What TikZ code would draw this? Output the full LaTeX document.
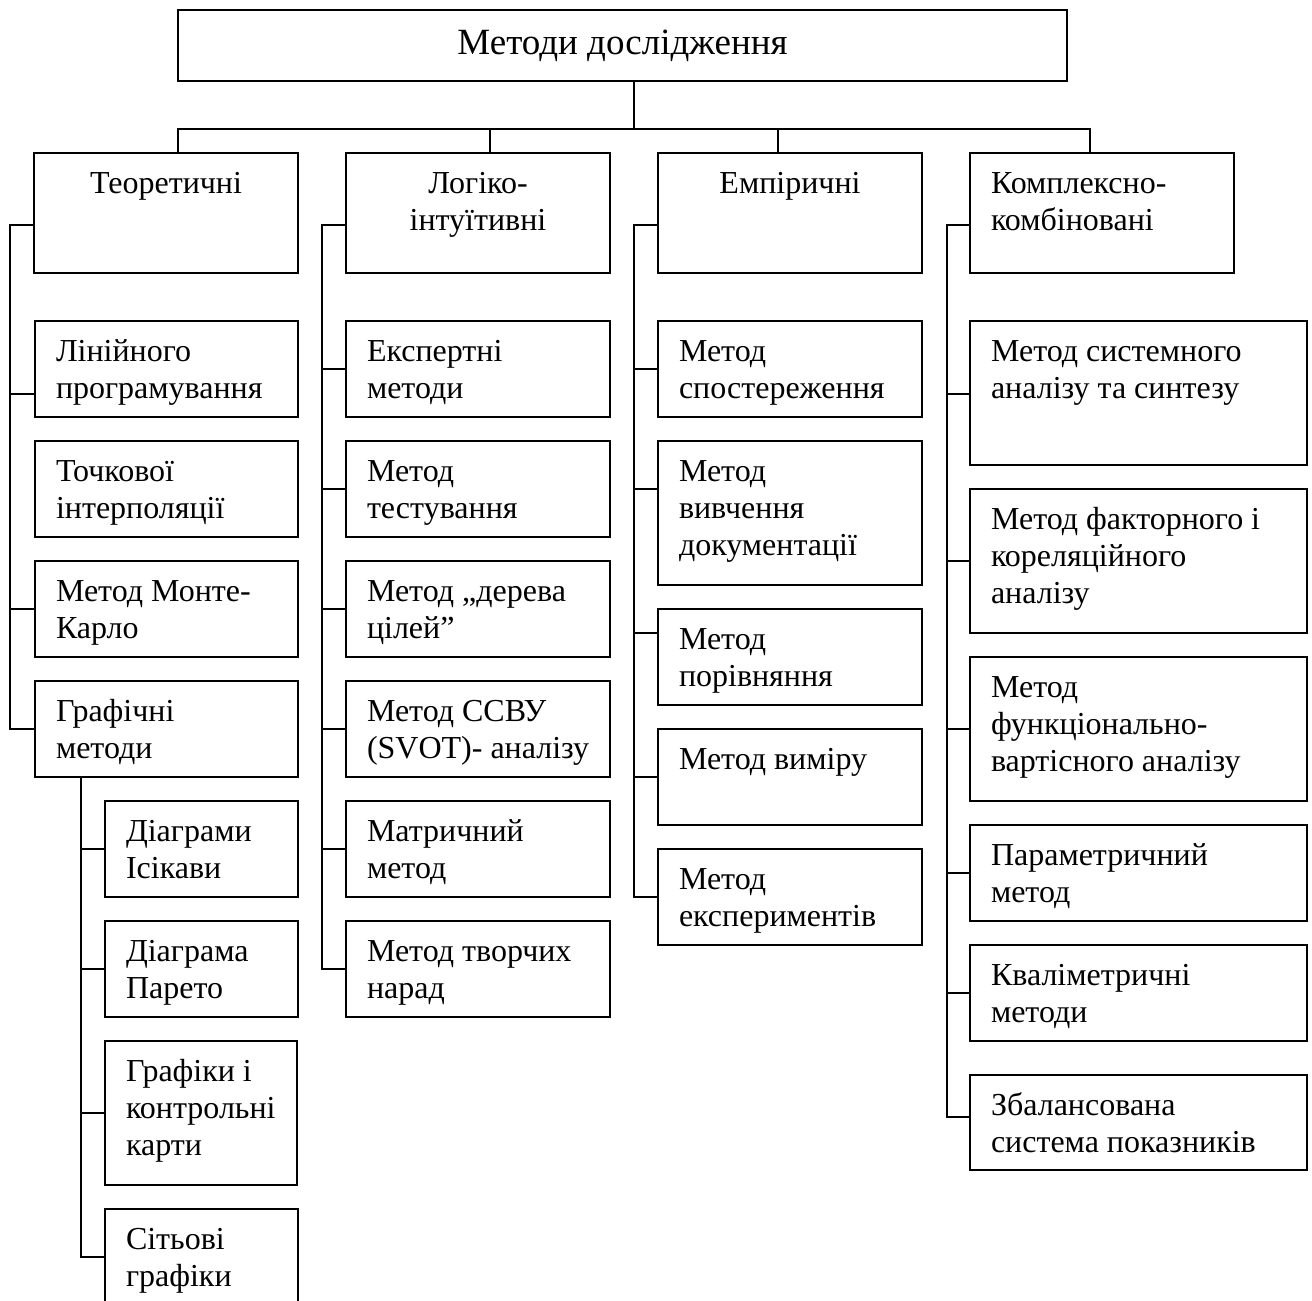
\documentclass[tikz,border=0pt]{standalone}
\usepackage{fontspec}
\setmainfont{Liberation Serif}
\tikzset{
  boxst/.style={draw, line width=2pt, inner sep=0pt, outer sep=0pt, anchor=north west},
  link/.style={line width=2pt},
  txt/.style={inner sep=0pt, outer sep=0pt, font=\fontsize{32}{37}\selectfont},
}
% name x1 y1 x2 y2 connector-y text  (left-aligned text)
\newcommand{\methbox}[7]{%
  \node[boxst, minimum width={(#4-#2)*1pt}, minimum height={(#5-#3)*1pt}] (#1) at (#2,#3) {};
  \coordinate (#1-c) at (#2,#6);
  \node[txt, anchor=base west] (#1-t) at ({#2+21},{#3+40}) {\begin{tabular}[t]{@{}l@{}}#7\end{tabular}};
}
% centered text
\newcommand{\headbox}[7]{%
  \node[boxst, minimum width={(#4-#2)*1pt}, minimum height={(#5-#3)*1pt}] (#1) at (#2,#3) {};
  \coordinate (#1-c) at (#2,#6);
  \node[txt, anchor=base] (#1-t) at ({(#2+#4)/2},{#3+40}) {\begin{tabular}[t]{@{}c@{}}#7\end{tabular}};
}
\begin{document}
\begin{tikzpicture}[x=1pt,y=-1pt]
\useasboundingbox (0,0) rectangle (1312,1301);

% top box
\node[boxst, minimum width=889pt, minimum height=71pt] (top) at (178,10) {};
\node[inner sep=0pt, anchor=base, font=\fontsize{37}{42}\selectfont] (top-t) at (622.5,54) {Методи дослідження};

% level 2
\headbox{T}{34}{153}{298}{273}{225}{Теоретичні}
\headbox{L}{346}{153}{610}{273}{225}{Логіко-\\інтуїтивні}
\headbox{E}{658}{153}{922}{273}{225}{Емпіричні}
\methbox{K}{970}{153}{1234}{273}{225}{Комплексно-\\комбіновані}

% column 1
\methbox{lin}{35}{321}{298}{417}{394}{Лінійного\\програмування}
\methbox{toch}{35}{441}{298}{537}{489}{Точкової\\інтерполяції}
\methbox{monte}{35}{561}{298}{657}{609}{Метод Монте-\\Карло}
\methbox{graf}{35}{681}{298}{777}{729}{Графічні\\методи}
% sub column
\methbox{isik}{105}{801}{298}{897}{849}{Діаграми\\Ісікави}
\methbox{pareto}{105}{921}{298}{1017}{969}{Діаграма\\Парето}
\methbox{grafiki}{105}{1041}{297}{1185}{1113}{Графіки і\\контрольні\\карти}
\methbox{sit}{105}{1209}{298}{1306}{1257}{Сітьові\\графіки}

% column 2
\methbox{eksp}{346}{321}{610}{417}{369}{Експертні\\методи}
\methbox{test}{346}{441}{610}{537}{489}{Метод\\тестування}
\methbox{derev}{346}{561}{610}{657}{609}{Метод „дерева\\цілей”}
\methbox{ssvu}{346}{681}{610}{777}{729}{Метод ССВУ\\(SVOT)- аналізу}
\methbox{matr}{346}{801}{610}{897}{849}{Матричний\\метод}
\methbox{tvor}{346}{921}{610}{1017}{969}{Метод творчих\\нарад}

% column 3
\methbox{spost}{658}{321}{922}{417}{369}{Метод\\спостереження}
\methbox{vyvch}{658}{441}{922}{585}{489}{Метод\\вивчення\\документації}
\methbox{porivn}{658}{609}{922}{705}{633}{Метод\\порівняння}
\methbox{vymir}{658}{729}{922}{825}{777}{Метод виміру}
\methbox{ekspr}{658}{849}{922}{945}{897}{Метод\\експериментів}

% column 4
\methbox{syst}{970}{321}{1307}{465}{394}{Метод системного\\аналізу та синтезу}
\methbox{fakt}{970}{489}{1307}{633}{561}{Метод факторного і\\кореляційного\\аналізу}
\methbox{funk}{970}{657}{1307}{801}{729}{Метод\\функціонально-\\вартісного аналізу}
\methbox{param}{970}{825}{1307}{921}{873}{Параметричний\\метод}
\methbox{kval}{970}{945}{1307}{1041}{993}{Кваліметричні\\методи}
\methbox{zbal}{970}{1075}{1307}{1170}{1117}{Збалансована\\система показників}

% helper coordinates
\coordinate (x634) at (634,0);
\coordinate (busL) at (178,128.5);
\coordinate (busR) at (1090,128.5);
\coordinate (dL) at (489.5,128.5);
\coordinate (dE) at (778,128.5);
\coordinate (sp1) at (9.5,0);
\coordinate (sp2) at (322,0);
\coordinate (sp3) at (634,0);
\coordinate (sp4) at (946.5,0);
\coordinate (sp5) at (81,0);

% top connectors
\draw[link] (top.south -| x634) -- (busL -| x634);
\draw[link] (T.north -| busL) -- (busL) -- (busR) -- (K.north -| busR);
\draw[link] (dL) -- (L.north -| dL);
\draw[link] (dE) -- (E.north -| dE);

% column 1 spine
\draw[link] (T-c) -- (T-c -| sp1) -- (graf-c -| sp1) -- (graf-c);
\draw[link] (lin-c) -- (lin-c -| sp1);
\draw[link] (monte-c) -- (monte-c -| sp1);
% sub spine
\draw[link] (graf.south -| sp5) -- (sit-c -| sp5) -- (sit-c);
\draw[link] (isik-c) -- (isik-c -| sp5);
\draw[link] (pareto-c) -- (pareto-c -| sp5);
\draw[link] (grafiki-c) -- (grafiki-c -| sp5);

% column 2 spine
\draw[link] (L-c) -- (L-c -| sp2) -- (tvor-c -| sp2) -- (tvor-c);
\foreach \n in {eksp,test,derev,ssvu,matr}{\draw[link] (\n-c) -- (\n-c -| sp2);}

% column 3 spine
\draw[link] (E-c) -- (E-c -| sp3) -- (ekspr-c -| sp3) -- (ekspr-c);
\foreach \n in {spost,vyvch,porivn,vymir}{\draw[link] (\n-c) -- (\n-c -| sp3);}

% column 4 spine
\draw[link] (K-c) -- (K-c -| sp4) -- (zbal-c -| sp4) -- (zbal-c);
\foreach \n in {syst,fakt,funk,param,kval}{\draw[link] (\n-c) -- (\n-c -| sp4);}
\end{tikzpicture}
\end{document}
